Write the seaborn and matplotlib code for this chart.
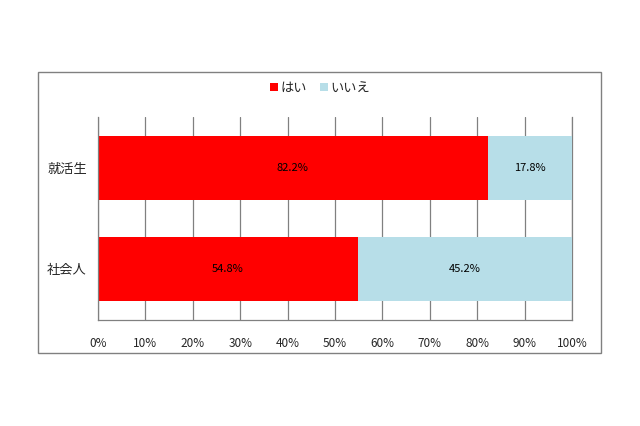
import matplotlib
matplotlib.use("Agg")
import matplotlib.pyplot as plt
import seaborn as sns
import pandas as pd
from matplotlib.patches import Rectangle

# データ
categories = ["就活生", "社会人"]
hai = [82.2, 54.8]
iie = [17.8, 45.2]
series_names = ["はい", "いいえ"]
ticks = [0, 10, 20, 30, 40, 50, 60, 70, 80, 90, 100]

sns.set_theme(style="white")
plt.rcParams["font.family"] = ["Noto Sans CJK JP", "DejaVu Sans"]

RED = "#FF0000"
BLUE = "#B7DEE8"
GRAY = "#808080"

df = pd.DataFrame({"cat": categories, "hai": hai, "iie": iie})
df["total"] = df["hai"] + df["iie"]

fig = plt.figure(figsize=(6.4, 4.26), dpi=100)
ax = fig.add_axes([98 / 640, 1 - 320 / 426, 474 / 640, 203 / 426])

# 積み上げ：合計を先に描いて、その上に「はい」を重ねる
sns.barplot(data=df, x="total", y="cat", orient="h", color=BLUE, linewidth=0,
            width=0.634, ax=ax, label=series_names[1], saturation=1)
sns.barplot(data=df, x="hai", y="cat", orient="h", color=RED, linewidth=0,
            width=0.634, ax=ax, label=series_names[0], saturation=1)

for i, (h, n) in enumerate(zip(hai, iie)):
    ax.text(h / 2, i, f"{h}%", ha="center", va="center", fontsize=8, color="black")
    ax.text(h + n / 2, i, f"{n}%", ha="center", va="center", fontsize=8, color="black")

ax.set_xlim(0, 100)
ax.set_ylim(1.505, -0.505)
ax.set_xticks(ticks)
ax.set_xticklabels([f"{t}%" for t in ticks], fontsize=8.5)
ax.tick_params(axis="x", length=0, pad=12)
ax.tick_params(axis="y", length=0, pad=8, labelsize=9.5)
ax.set_xlabel("")
ax.set_ylabel("")
ax.xaxis.grid(True, color=GRAY, linewidth=0.9)
ax.set_axisbelow(True)
ax.spines["top"].set_visible(False)
for s in ["left", "bottom", "right"]:
    ax.spines[s].set_color(GRAY)
    ax.spines[s].set_linewidth(0.9)
ax.spines["right"].set_zorder(0.5)

handles, labels = ax.get_legend_handles_labels()
order = [labels.index(n) for n in series_names]
ax.legend([handles[k] for k in order], [labels[k] for k in order],
          loc="center", bbox_to_anchor=(0.5, (426 - 88) / 426), bbox_transform=fig.transFigure,
          ncol=2, frameon=False, fontsize=9.5, handlelength=0.6, handleheight=0.6,
          handletextpad=0.2, columnspacing=1.0)

# 外枠
fig.patches.append(Rectangle((38 / 640, 1 - 353 / 426), 563 / 640, 281 / 426,
                             transform=fig.transFigure, fill=False,
                             edgecolor=GRAY, linewidth=1))

fig.savefig("out.png", dpi=100)
